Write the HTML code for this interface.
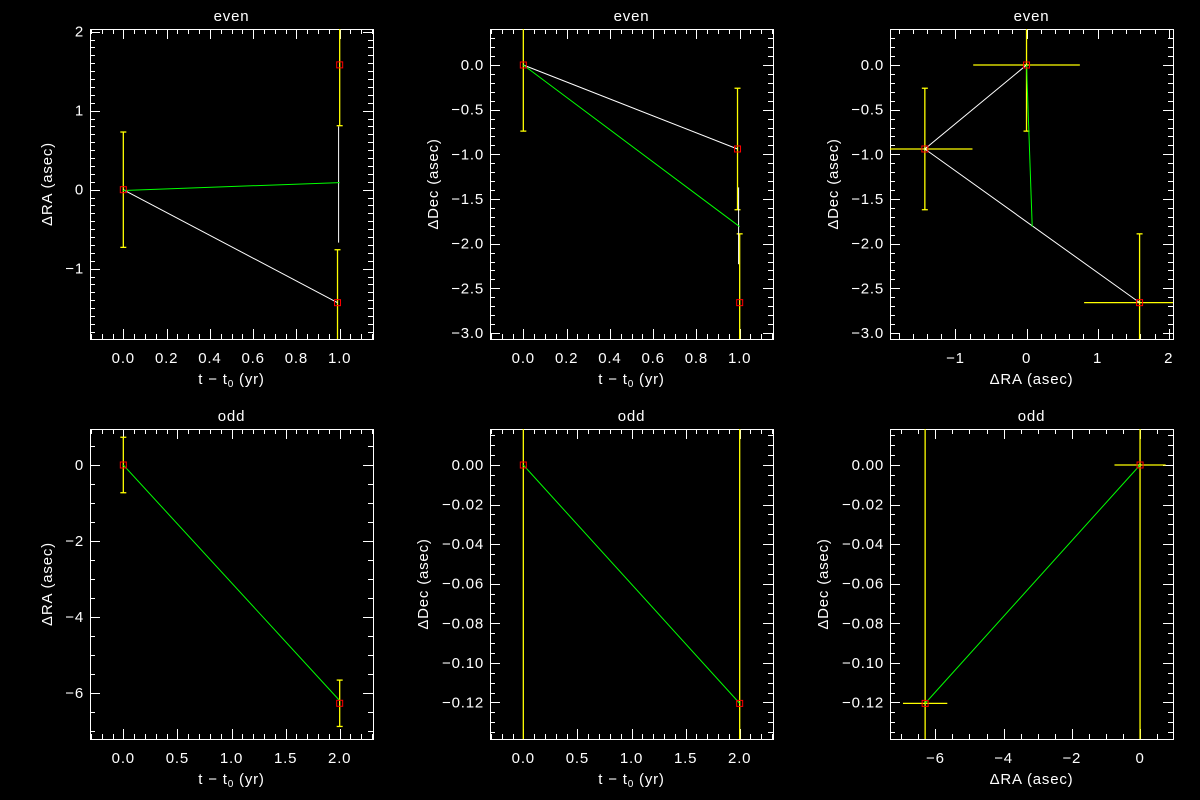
<!DOCTYPE html>
<html><head><meta charset="utf-8"><style>
html,body{margin:0;padding:0;background:#000;overflow:hidden;width:1200px;height:800px;}
svg{display:block;}
text{font-family:"Liberation Sans",sans-serif;fill:#fff;font-size:15px;letter-spacing:0.8px;}
</style></head><body>
<svg id="fig" width="1200" height="800" viewBox="0 0 1200 800" xmlns="http://www.w3.org/2000/svg">
<rect width="1200" height="800" fill="#000"/>
</svg>
<script>
// ---- data ----
const p1X = [0, 0.99, 1.0];
const p1Y = [0, -1.43, 1.58];
const p1YErr = [0.73, 0.67, 0.77];
const p1WhiteX = [0, 0.99];
const p1WhiteY = [0, -1.43];
const p1LinkX = [0.995, 0.995];
const p1LinkY = [0.8, -0.67];
const p1GreenX = [0, 1.0];
const p1GreenY = [-0.01, 0.09];
const p2X = [0, 0.99, 1.0];
const p2Y = [0, -0.94, -2.66];
const p2YErr = [0.74, 0.68, 0.77];
const p2WhiteX = [0, 0.99];
const p2WhiteY = [0, -0.94];
const p2LinkX = [0.995, 0.995];
const p2LinkY = [-1.37, -2.23];
const p2GreenX = [0, 1.0];
const p2GreenY = [0, -1.81];
const p3X = [0, -1.43, 1.59];
const p3Y = [0, -0.94, -2.66];
const p3XErr = [0.75, 0.67, 0.78];
const p3YErr = [0.74, 0.68, 0.77];
const p3WhiteX = [0, -1.43, 1.59];
const p3WhiteY = [0, -0.94, -2.66];
const p3GreenX = [0, 0.08];
const p3GreenY = [0, -1.81];
const p4X = [0, 2.0];
const p4Y = [0, -6.27];
const p4YErr = [0.73, 0.61];
const p4GreenX = [0, 2.0];
const p4GreenY = [0, -6.2];
const p5X = [0, 2.0];
const p5Y = [0, -0.1205];
const p5YErr = [1, 1];
const p5GreenX = [0, 2.0];
const p5GreenY = [0, -0.1205];
const p6X = [0, -6.3];
const p6Y = [0, -0.1205];
const p6XErr = [0.75, 0.65];
const p6YErr = [1, 1];
const p6GreenX = [0, -6.3];
const p6GreenY = [0, -0.1205];
const timeTitle = "t − t";
const raTitle = "ΔRA (asec)";
const decTitle = "ΔDec (asec)";

const NS = "http://www.w3.org/2000/svg";
const svg = document.getElementById('fig');
function el(tag, attrs, parent) {
  const e = document.createElementNS(NS, tag);
  for (const k in attrs) e.setAttribute(k, attrs[k]);
  (parent || svg).appendChild(e);
  return e;
}
function fmt(v, d) {
  let s = Math.abs(v) < 1e-9 ? (0).toFixed(d) : v.toFixed(d);
  return s.replace('-', '−');
}

const panels = [
  {name:'even-ra-time', title:'even', L:90, T:29, xr:[-0.154,1.154], yr:[-1.89,2.034], xs:0.2, xm:4, xd:1, ys:1, ym:10, yd:0, xt:'time', yt:raTitle, ytx:47,
   px:p1X, py:p1Y, yerr:p1YErr, wx:p1WhiteX, wy:p1WhiteY, lx:p1LinkX, ly:p1LinkY, gx:p1GreenX, gy:p1GreenY},
  {name:'even-dec-time', title:'even', L:490, T:29, xr:[-0.154,1.154], yr:[-3.067,0.403], xs:0.2, xm:4, xd:1, ys:0.5, ym:5, yd:1, xt:'time', yt:decTitle, ytx:433,
   px:p2X, py:p2Y, yerr:p2YErr, wx:p2WhiteX, wy:p2WhiteY, lx:p2LinkX, ly:p2LinkY, gx:p2GreenX, gy:p2GreenY},
  {name:'even-dec-ra', title:'even', L:890, T:29, xr:[-1.92,2.06], yr:[-3.067,0.403], xs:1, xm:5, xd:0, ys:0.5, ym:5, yd:1, xt:raTitle, yt:decTitle, ytx:833,
   px:p3X, py:p3Y, xerr:p3XErr, yerr:p3YErr, wx:p3WhiteX, wy:p3WhiteY, gx:p3GreenX, gy:p3GreenY},
  {name:'odd-ra-time', title:'odd', L:90, T:429, xr:[-0.308,2.308], yr:[-7.21,0.947], xs:0.5, xm:5, xd:1, ys:2, ym:4, yd:0, xt:'time', yt:raTitle, ytx:47,
   px:p4X, py:p4Y, yerr:p4YErr, gx:p4GreenX, gy:p4GreenY},
  {name:'odd-dec-time', title:'odd', L:490, T:429, xr:[-0.308,2.308], yr:[-0.1385,0.0182], xs:0.5, xm:5, xd:1, ys:0.02, ym:4, yd:2, xt:'time', yt:decTitle, ytx:423,
   px:p5X, py:p5Y, yerr:p5YErr, gx:p5GreenX, gy:p5GreenY},
  {name:'odd-dec-ra', title:'odd', L:890, T:429, xr:[-7.33,0.966], yr:[-0.1385,0.0182], xs:2, xm:4, xd:0, ys:0.02, ym:4, yd:2, xt:raTitle, yt:decTitle, ytx:823,
   px:p6X, py:p6Y, xerr:p6XErr, yerr:p6YErr, gx:p6GreenX, gy:p6GreenY},
];
const W = 283, H = 310;

panels.forEach((p, pi) => {
  const g = el('g', {});
  
  
  const sx = v => p.L + (v - p.xr[0]) / (p.xr[1] - p.xr[0]) * W;
  const sy = v => p.T + H - (v - p.yr[0]) / (p.yr[1] - p.yr[0]) * H;
  const clipId = 'clip' + pi;
  const cp = el('clipPath', {id: clipId}, g);
  el('rect', {x:p.L, y:p.T, width:W, height:H}, cp);

  const t = el('text', {x:p.L + W/2, y:p.T - 8, 'text-anchor':'middle', 'font-size':'17'}, g);
  t.textContent = p.title;
  
  

  const fr = el('rect', {x:p.L+0.5, y:p.T+0.5, width:W, height:H, fill:'none', stroke:'#fff', 'stroke-width':1}, g);
  
  

  const tg = el('g', {stroke:'#fff', 'stroke-width':1}, g);
  
  
  const xMinor = p.xs / p.xm, yMinor = p.ys / p.ym;
  for (let v = Math.ceil(p.xr[0]/xMinor - 1e-6)*xMinor; v <= p.xr[1] + 1e-9; v += xMinor) {
    const major = Math.abs(v/p.xs - Math.round(v/p.xs)) < 1e-6;
    const len = major ? 10 : 5, x = Math.round(sx(v)) + 0.5;
    el('line', {x1:x, y1:p.T+H, x2:x, y2:p.T+H-len}, tg);
    el('line', {x1:x, y1:p.T, x2:x, y2:p.T+len}, tg);
    if (major) {
      const lt = el('text', {x:sx(v), y:p.T+H+24, 'text-anchor':'middle'}, g);
      lt.textContent = fmt(Math.round(v/p.xs)*p.xs, p.xd);
      
      
    }
  }
  for (let v = Math.ceil(p.yr[0]/yMinor - 1e-6)*yMinor; v <= p.yr[1] + 1e-9; v += yMinor) {
    const major = Math.abs(v/p.ys - Math.round(v/p.ys)) < 1e-6;
    const len = major ? 10 : 5, y = Math.round(sy(v)) + 0.5;
    el('line', {x1:p.L, y1:y, x2:p.L+len, y2:y}, tg);
    el('line', {x1:p.L+W, y1:y, x2:p.L+W-len, y2:y}, tg);
    if (major) {
      const lt = el('text', {x:p.L-6, y:sy(v)+5, 'text-anchor':'end'}, g);
      lt.textContent = fmt(Math.round(v/p.ys)*p.ys, p.yd);
      
      
    }
  }

  const xt = el('text', {x:p.L + W/2, y:p.T+H+45, 'text-anchor':'middle', 'font-size':'16'}, g);
  if (p.xt === 'time') {
    xt.textContent = timeTitle;
    const sub = el('tspan', {'font-size':'10', dy:'3'}, xt); sub.textContent = '0';
    const rest = el('tspan', {dy:'-3'}, xt); rest.textContent = ' (yr)';
  } else xt.textContent = p.xt;
  
  
  const yc = p.T + H/2;
  const yt = el('text', {x:p.ytx, y:yc + 5, 'text-anchor':'middle', 'font-size':'16', transform:'rotate(-90 '+p.ytx+' '+yc+')'}, g);
  yt.textContent = p.yt;
  
  

  const mg = el('g', {'clip-path':'url(#'+clipId+')'}, g);
  
  
  const inY = v => v >= p.yr[0] && v <= p.yr[1];
  for (let i = 0; i < p.px.length; i++) {
    const x = sx(p.px[i]);
    const y0 = p.py[i] - p.yerr[i], y1 = p.py[i] + p.yerr[i];
    const eb = el('g', {stroke:'#ffff00', 'stroke-width':1.3}, mg);
    
    
    el('line', {x1:x, y1:sy(y0), x2:x, y2:sy(y1)}, eb);
    if (inY(y0)) el('line', {x1:x-3, y1:sy(y0), x2:x+3, y2:sy(y0)}, eb);
    if (inY(y1)) el('line', {x1:x-3, y1:sy(y1), x2:x+3, y2:sy(y1)}, eb);
    if (p.xerr) {
      el('line', {x1:sx(p.px[i]-p.xerr[i]), y1:sy(p.py[i]), x2:sx(p.px[i]+p.xerr[i]), y2:sy(p.py[i])}, eb);
    }
  }
  function poly(xs, ys, color, name) {
    if (!xs) return;
    const pts = xs.map((v, i) => sx(v).toFixed(2) + ',' + sy(ys[i]).toFixed(2)).join(' ');
    const pl = el('polyline', {points:pts, fill:'none', stroke:color, 'stroke-width':1}, mg);
    
    
  }
  poly(p.wx, p.wy, '#ffffff', 'observed-track');
  poly(p.lx, p.ly, '#ffffff', 'track-link');
  poly(p.gx, p.gy, '#00ff00', 'model-track');
  for (let i = 0; i < p.px.length; i++) {
    const r = el('rect', {x:sx(p.px[i])-3, y:sy(p.py[i])-3, width:6, height:6, fill:'none', stroke:'#ff0000', 'stroke-width':1}, mg);
    
    
  }
});
</script>
</body></html>
